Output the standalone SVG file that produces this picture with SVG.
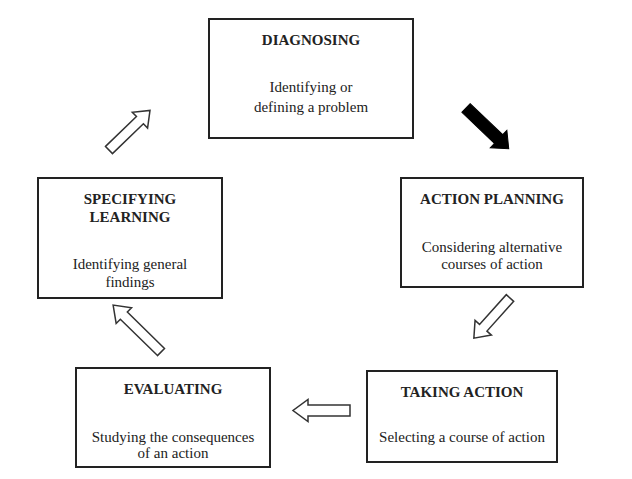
<svg xmlns="http://www.w3.org/2000/svg" width="632" height="479" viewBox="0 0 632 479">
<style>
.box{fill:#fff;stroke:#222;stroke-width:2}
.t{font-family:"Liberation Serif","Times New Roman",serif;font-size:15px;fill:#222;text-anchor:middle}
.b{font-weight:bold}
.arr{fill:#fff;stroke:#333;stroke-width:1.5;stroke-linejoin:miter}
.arrk{fill:#000;stroke:#000;stroke-width:1}
</style>
<rect width="632" height="479" fill="#fff"/>
<g id="diagnosing">
<rect class="box" x="209" y="19" width="204" height="119"/>
<text class="t b" x="311" y="45">DIAGNOSING</text>
<text class="t" x="311" y="92">Identifying or</text>
<text class="t" x="311" y="112">defining a problem</text>
</g>
<g id="action-planning">
<rect class="box" x="401" y="178" width="182" height="109"/>
<text class="t b" x="492" y="204">ACTION PLANNING</text>
<text class="t" x="492" y="252">Considering alternative</text>
<text class="t" x="492" y="269">courses of action</text>
</g>
<g id="taking-action">
<rect class="box" x="367" y="371" width="190" height="91"/>
<text class="t b" x="462" y="397">TAKING ACTION</text>
<text class="t" x="462" y="442">Selecting a course of action</text>
</g>
<g id="evaluating">
<rect class="box" x="76" y="368" width="194" height="99"/>
<text class="t b" x="173" y="394">EVALUATING</text>
<text class="t" x="173" y="442">Studying the consequences</text>
<text class="t" x="173" y="458">of an action</text>
</g>
<g id="specifying-learning">
<rect class="box" x="38" y="178" width="184" height="120"/>
<text class="t b" x="130" y="204">SPECIFYING</text>
<text class="t b" x="130" y="222">LEARNING</text>
<text class="t" x="130" y="269">Identifying general</text>
<text class="t" x="130" y="287">findings</text>
</g>
<g id="connectors">
<polygon class="arrk" transform="translate(466,108) rotate(43.6)" points="0,-6 45,-6 45,-12 59,0 45,12 45,6 0,6"/>
<polygon class="arr" transform="translate(510,298) rotate(132)" points="0,-5 40,-5 40,-11 54,0 40,11 40,5 0,5"/>
<polygon class="arr" transform="translate(350,410.5) rotate(180)" points="0,-5.5 42,-5.5 42,-11 57,0 42,11 42,5.5 0,5.5"/>
<polygon class="arr" transform="translate(161,352) rotate(224.4)" points="0,-5 52,-5 52,-11 67,0 52,11 52,5 0,5"/>
<polygon class="arr" transform="translate(109,150) rotate(-44)" points="0,-5 43,-5 43,-11 57,0 43,11 43,5 0,5"/>
</g>
</svg>
